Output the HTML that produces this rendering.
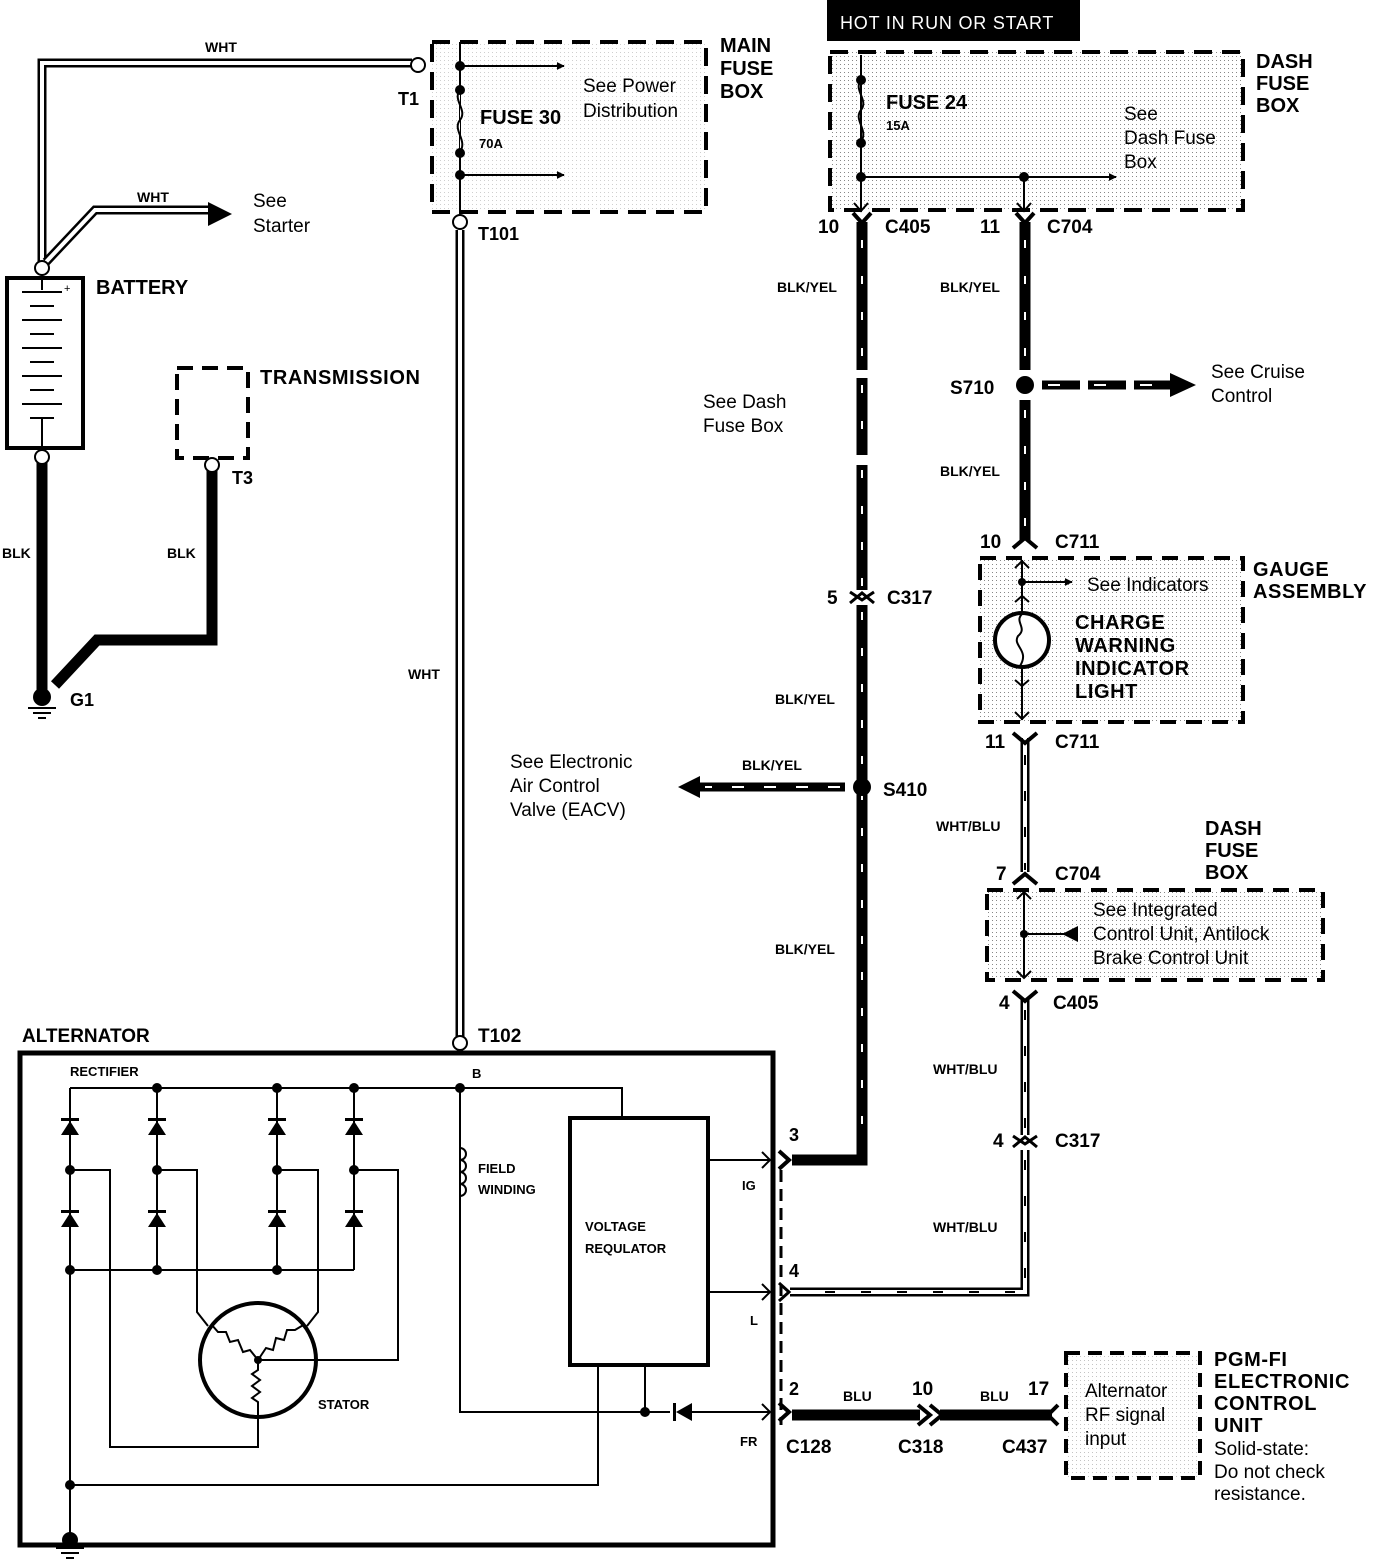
<!DOCTYPE html>
<html><head><meta charset="utf-8"><style>
html,body{margin:0;padding:0;background:#fff}
svg{display:block}
text{font-family:"Liberation Sans",sans-serif;fill:#000}
.b{font-weight:bold}
</style></head><body>
<svg width="1392" height="1564" viewBox="0 0 1392 1564" xmlns="http://www.w3.org/2000/svg">
<defs>
<pattern id="dot" width="4" height="4" patternUnits="userSpaceOnUse"><rect width="4" height="4" fill="#fff"/><rect width="1" height="1" fill="#888"/></pattern>
<marker id="ar" viewBox="0 0 10 10" refX="9" refY="5" markerWidth="8" markerHeight="8" markerUnits="userSpaceOnUse" orient="auto"><path d="M0,0L10,5L0,10z"/></marker>
<g id="fy"><path d="M-9,-9 L0,1 L9,-9" fill="none" stroke="#000" stroke-width="4"/></g>
<g id="mv"><path d="M-7,-7 L0,1 L7,-7" fill="none" stroke="#000" stroke-width="2"/></g>
<g id="diodeup"><path d="M-9,7 L9,7 L0,-7z"/><rect x="-9" y="-10" width="18" height="3"/></g>
</defs>

<rect x="432" y="42" width="274" height="170" fill="url(#dot)" opacity="0.4"/>
<rect x="830" y="52" width="413" height="158" fill="url(#dot)"/>
<rect x="980" y="558" width="263" height="164" fill="url(#dot)"/>
<rect x="987" y="890" width="336" height="90" fill="url(#dot)"/>
<rect x="1066" y="1353" width="134" height="125" fill="url(#dot)" opacity="0.5"/>

<g fill="none" stroke-linejoin="miter">
<path d="M42,262 L42,63 L412,63" stroke="#000" stroke-width="9"/>
<path d="M42,262 L42,63 L412,63" stroke="#fff" stroke-width="4"/>
<path d="M46,262 L95,210 L210,210" stroke="#000" stroke-width="9"/>
<path d="M46,262 L95,210 L210,210" stroke="#fff" stroke-width="4"/>
<path d="M460,230 L460,1037" stroke="#000" stroke-width="9"/>
<path d="M460,230 L460,1037" stroke="#fff" stroke-width="4"/>
</g>
<path d="M208,202 L232,214 L208,226z"/>
<circle cx="418" cy="65" r="7" fill="#fff" stroke="#000" stroke-width="2"/>
<circle cx="42" cy="268" r="7" fill="#fff" stroke="#000" stroke-width="2"/>
<circle cx="460" cy="222" r="7" fill="#fff" stroke="#000" stroke-width="2"/>
<circle cx="460" cy="1043" r="7" fill="#fff" stroke="#000" stroke-width="2"/>
<text x="205" y="52" class="b" font-size="14">WHT</text>
<text x="137" y="202" class="b" font-size="14">WHT</text>
<text x="253" y="207" font-size="19">See</text>
<text x="253" y="232" font-size="19">Starter</text>
<text x="398" y="105" class="b" font-size="18">T1</text>
<text x="478" y="240" class="b" font-size="18">T101</text>
<text x="408" y="679" class="b" font-size="14">WHT</text>

<rect x="7" y="278" width="76" height="170" fill="none" stroke="#000" stroke-width="4"/>
<line x1="42" y1="275" x2="42" y2="290" stroke="#000" stroke-width="2"/>
<g stroke="#000" stroke-width="2">
<line x1="22" y1="292" x2="62" y2="292"/><line x1="30" y1="306" x2="54" y2="306"/>
<line x1="22" y1="320" x2="62" y2="320"/><line x1="30" y1="334" x2="54" y2="334"/>
<line x1="22" y1="348" x2="62" y2="348"/><line x1="30" y1="362" x2="54" y2="362"/>
<line x1="22" y1="376" x2="62" y2="376"/><line x1="30" y1="390" x2="54" y2="390"/>
<line x1="22" y1="404" x2="62" y2="404"/><line x1="30" y1="418" x2="54" y2="418"/>
<line x1="42" y1="418" x2="42" y2="450"/>
</g>
<text x="64" y="292" font-size="11">+</text>
<text x="96" y="294" class="b" font-size="20">BATTERY</text>
<path d="M42,462 L42,690" stroke="#000" stroke-width="11"/>
<circle cx="42" cy="457" r="7" fill="#fff" stroke="#000" stroke-width="2"/>
<path d="M212,470 L212,640 L97,640 L55,685" fill="none" stroke="#000" stroke-width="11"/>
<circle cx="212" cy="465" r="7" fill="#fff" stroke="#000" stroke-width="2"/>
<circle cx="42" cy="697" r="9"/>
<g stroke="#000" stroke-width="2"><line x1="28" y1="708" x2="56" y2="708"/><line x1="33" y1="713" x2="51" y2="713"/><line x1="38" y1="718" x2="46" y2="718"/></g>
<text x="70" y="706" class="b" font-size="18">G1</text>
<text x="2" y="558" class="b" font-size="14">BLK</text>
<text x="167" y="558" class="b" font-size="14">BLK</text>
<rect x="177" y="368" width="71" height="90" fill="none" stroke="#000" stroke-width="4" stroke-dasharray="16 9"/>
<text x="260" y="384" class="b" font-size="20" letter-spacing="0.6">TRANSMISSION</text>
<text x="232" y="484" class="b" font-size="18">T3</text>

<rect x="432" y="42" width="274" height="170" fill="none" stroke="#000" stroke-width="4" stroke-dasharray="18 10"/>
<line x1="460" y1="42" x2="460" y2="214" stroke="#000" stroke-width="2"/>
<path d="M460,90 C452,100 468,110 460,120 C452,130 468,140 460,152" fill="#fff" stroke="#000" stroke-width="2"/>
<circle cx="460" cy="66" r="5"/><circle cx="460" cy="90" r="5"/><circle cx="460" cy="153" r="5"/><circle cx="460" cy="175" r="5"/>
<line x1="460" y1="66" x2="564" y2="66" stroke="#000" stroke-width="2" marker-end="url(#ar)"/>
<line x1="460" y1="175" x2="564" y2="175" stroke="#000" stroke-width="2" marker-end="url(#ar)"/>
<text x="480" y="124" class="b" font-size="20">FUSE 30</text>
<text x="479" y="148" class="b" font-size="13">70A</text>
<text x="583" y="92" font-size="19">See Power</text>
<text x="583" y="117" font-size="19">Distribution</text>
<text x="720" y="52" class="b" font-size="20">MAIN</text>
<text x="720" y="75" class="b" font-size="20">FUSE</text>
<text x="720" y="98" class="b" font-size="20">BOX</text>

<rect x="827" y="0" width="253" height="41"/>
<text x="840" y="29" font-size="18" style="fill:#fff" letter-spacing="0.8">HOT IN  RUN  OR  START</text>

<rect x="830" y="52" width="413" height="158" fill="none" stroke="#000" stroke-width="4" stroke-dasharray="18 10"/>
<line x1="861" y1="55" x2="861" y2="210" stroke="#000" stroke-width="2"/>
<path d="M861,80 C853,90 869,100 861,110 C853,120 869,130 861,142" fill="none" stroke="#000" stroke-width="2"/>
<circle cx="861" cy="80" r="5"/><circle cx="861" cy="143" r="5"/><circle cx="861" cy="177" r="5"/><circle cx="1024" cy="177" r="5"/>
<line x1="861" y1="177" x2="1116" y2="177" stroke="#000" stroke-width="2" marker-end="url(#ar)"/>
<line x1="1024" y1="177" x2="1024" y2="210" stroke="#000" stroke-width="2"/>
<text x="886" y="109" class="b" font-size="20">FUSE 24</text>
<text x="886" y="130" class="b" font-size="13">15A</text>
<text x="1124" y="120" font-size="19">See</text>
<text x="1124" y="144" font-size="19">Dash Fuse</text>
<text x="1124" y="168" font-size="19">Box</text>
<text x="1256" y="68" class="b" font-size="20">DASH</text>
<text x="1256" y="90" class="b" font-size="20">FUSE</text>
<text x="1256" y="112" class="b" font-size="20">BOX</text>

<g stroke="#000" stroke-width="11" fill="none">
<path d="M862,222 L862,370"/><path d="M862,378 L862,455"/><path d="M862,465 L862,590"/>
<path d="M862,605 L862,1160 L792,1160"/>
</g>
<g stroke="#fff" stroke-width="2" stroke-dasharray="8 28">
<path d="M862,240 L862,370"/><path d="M862,385 L862,455"/><path d="M862,470 L862,590"/><path d="M862,612 L862,1150"/>
</g>
<use href="#mv" x="861" y="210"/><use href="#fy" x="862" y="222"/>
<use href="#mv" x="1024" y="210"/><use href="#fy" x="1025" y="222"/>
<text x="818" y="233" class="b" font-size="19">10</text>
<text x="885" y="233" class="b" font-size="19">C405</text>
<text x="980" y="233" class="b" font-size="19">11</text>
<text x="1047" y="233" class="b" font-size="19">C704</text>
<text x="777" y="292" class="b" font-size="14">BLK/YEL</text>
<text x="703" y="408" font-size="19">See  Dash</text>
<text x="703" y="432" font-size="19">Fuse Box</text>
<path d="M850,603 L862,593 L874,603" fill="none" stroke="#000" stroke-width="3"/>
<path d="M850,592 L862,600 L874,592" fill="none" stroke="#000" stroke-width="3"/>
<text x="827" y="604" class="b" font-size="19">5</text>
<text x="887" y="604" class="b" font-size="19">C317</text>
<text x="775" y="704" class="b" font-size="14">BLK/YEL</text>
<text x="775" y="954" class="b" font-size="14">BLK/YEL</text>
<circle cx="862" cy="787" r="9"/>
<text x="883" y="796" class="b" font-size="19">S410</text>
<path d="M845,787 L700,787" stroke="#000" stroke-width="9"/>
<path d="M840,787 L705,787" stroke="#fff" stroke-width="2" stroke-dasharray="12 20"/>
<path d="M700,776 L678,787 L700,798z"/>
<text x="742" y="770" class="b" font-size="14">BLK/YEL</text>
<text x="510" y="768" font-size="19">See Electronic</text>
<text x="510" y="792" font-size="19">Air  Control</text>
<text x="510" y="816" font-size="19">Valve  (EACV)</text>

<path d="M1025,222 L1025,370" stroke="#000" stroke-width="11"/>
<path d="M1025,400 L1025,540" stroke="#000" stroke-width="11"/>
<path d="M1025,240 L1025,365 M1025,410 L1025,530" stroke="#fff" stroke-width="2" stroke-dasharray="8 28"/>
<circle cx="1025" cy="385" r="9"/>
<path d="M1042,385 L1172,385" stroke="#000" stroke-width="9" stroke-dasharray="38 8"/>
<path d="M1048,385 L1172,385" stroke="#fff" stroke-width="2" stroke-dasharray="12 34"/>
<path d="M1170,373 L1196,385 L1170,397z"/>
<text x="950" y="394" class="b" font-size="19">S710</text>
<text x="940" y="292" class="b" font-size="14">BLK/YEL</text>
<text x="940" y="476" class="b" font-size="14">BLK/YEL</text>
<text x="1211" y="378" font-size="19">See Cruise</text>
<text x="1211" y="402" font-size="19">Control</text>

<path d="M1013,548 L1025,538 L1037,548" fill="none" stroke="#000" stroke-width="4"/>
<text x="980" y="548" class="b" font-size="19">10</text>
<text x="1055" y="548" class="b" font-size="19">C711</text>
<rect x="980" y="558" width="263" height="164" fill="none" stroke="#000" stroke-width="4" stroke-dasharray="16 10"/>
<line x1="1022" y1="560" x2="1022" y2="720" stroke="#000" stroke-width="2"/>
<path d="M1015,568 L1022,561 L1029,568 M1015,602 L1022,596 L1029,602 M1015,680 L1022,686 L1029,680 M1015,712 L1022,719 L1029,712" fill="none" stroke="#000" stroke-width="2"/>
<circle cx="1022" cy="582" r="4"/>
<line x1="1022" y1="582" x2="1072" y2="582" stroke="#000" stroke-width="2" marker-end="url(#ar)"/>
<circle cx="1022" cy="640" r="27" fill="#fff" stroke="#000" stroke-width="4"/>
<path d="M1022,614 C1014,622 1028,628 1018,636 C1012,646 1030,650 1020,666" fill="none" stroke="#000" stroke-width="2"/>
<text x="1087" y="591" font-size="19">See Indicators</text>
<text x="1075" y="629" class="b" font-size="20" letter-spacing="0.6">CHARGE</text>
<text x="1075" y="652" class="b" font-size="20" letter-spacing="0.6">WARNING</text>
<text x="1075" y="675" class="b" font-size="20" letter-spacing="0.6">INDICATOR</text>
<text x="1075" y="698" class="b" font-size="20" letter-spacing="0.6">LIGHT</text>
<text x="1253" y="576" class="b" font-size="20" letter-spacing="0.6">GAUGE</text>
<text x="1253" y="598" class="b" font-size="20" letter-spacing="0.6">ASSEMBLY</text>

<g fill="none">
<path d="M1025,738 L1025,872 M1025,998 L1025,1135 M1025,1150 L1025,1292 L790,1292" stroke="#000" stroke-width="9"/>
<path d="M1025,738 L1025,872 M1025,998 L1025,1135 M1025,1150 L1025,1292 L790,1292" stroke="#fff" stroke-width="4"/>
<path d="M1025,755 L1025,870 M1025,1010 L1025,1130 M1025,1160 L1025,1285 M1015,1292 L800,1292" stroke="#000" stroke-width="2" stroke-dasharray="10 26"/>
</g>
<path d="M1013,733 L1025,743 L1037,733" fill="none" stroke="#000" stroke-width="4"/>
<text x="985" y="748" class="b" font-size="19">11</text>
<text x="1055" y="748" class="b" font-size="19">C711</text>
<text x="936" y="831" class="b" font-size="14">WHT/BLU</text>
<path d="M1013,884 L1025,874 L1037,884" fill="none" stroke="#000" stroke-width="4"/>
<text x="996" y="880" class="b" font-size="19">7</text>
<text x="1055" y="880" class="b" font-size="19">C704</text>
<text x="1205" y="835" class="b" font-size="20">DASH</text>
<text x="1205" y="857" class="b" font-size="20">FUSE</text>
<text x="1205" y="879" class="b" font-size="20">BOX</text>
<rect x="987" y="890" width="336" height="90" fill="none" stroke="#000" stroke-width="4" stroke-dasharray="16 10"/>
<line x1="1024" y1="892" x2="1024" y2="978" stroke="#000" stroke-width="2"/>
<path d="M1017,899 L1024,892 L1031,899 M1017,971 L1024,978 L1031,971" fill="none" stroke="#000" stroke-width="2"/>
<circle cx="1024" cy="934" r="4"/>
<line x1="1024" y1="934" x2="1065" y2="934" stroke="#000" stroke-width="2"/>
<path d="M1078,926 L1062,934 L1078,942z"/>
<text x="1093" y="916" font-size="19">See Integrated</text>
<text x="1093" y="940" font-size="19">Control Unit, Antilock</text>
<text x="1093" y="964" font-size="19">Brake Control Unit</text>
<path d="M1013,991 L1025,1001 L1037,991" fill="none" stroke="#000" stroke-width="4"/>
<text x="999" y="1009" class="b" font-size="19">4</text>
<text x="1053" y="1009" class="b" font-size="19">C405</text>
<text x="933" y="1074" class="b" font-size="14">WHT/BLU</text>
<path d="M1013,1147 L1025,1137 L1037,1147" fill="none" stroke="#000" stroke-width="3"/>
<path d="M1013,1136 L1025,1144 L1037,1136" fill="none" stroke="#000" stroke-width="3"/>
<text x="993" y="1147" class="b" font-size="19">4</text>
<text x="1055" y="1147" class="b" font-size="19">C317</text>
<text x="933" y="1232" class="b" font-size="14">WHT/BLU</text>

<rect x="20" y="1053" width="753" height="492" fill="none" stroke="#000" stroke-width="5"/>
<text x="22" y="1042" class="b" font-size="19">ALTERNATOR</text>
<text x="478" y="1042" class="b" font-size="19">T102</text>
<text x="70" y="1076" class="b" font-size="13">RECTIFIER</text>
<text x="472" y="1078" class="b" font-size="13">B</text>
<g stroke="#000" stroke-width="2" fill="none">
<path d="M70,1088 L622,1088 L622,1118"/>
<path d="M70,1088 L70,1540"/>
<path d="M157,1088 L157,1270 M277,1088 L277,1270 M354,1088 L354,1270"/>
<path d="M70,1270 L354,1270"/>
<path d="M70,1170 L110,1170 L110,1447 L258,1447 L258,1418"/>
<path d="M157,1170 L197,1170 L197,1312 L208,1326"/>
<path d="M277,1170 L318,1170 L318,1312 L307,1326"/>
<path d="M354,1170 L398,1170 L398,1360 L258,1360"/>
<path d="M70,1485 L598,1485 L598,1365"/>
<path d="M460,1088 L460,1412 L670,1412"/>
<path d="M645,1412 L645,1365"/>
<path d="M690,1412 L770,1412"/>
<path d="M708,1160 L770,1160 M708,1292 L770,1292"/>
<path d="M762,1152 L770,1160 L762,1168 M762,1284 L770,1292 L762,1300 M762,1404 L770,1412 L762,1420"/>
<path d="M460,1148 a6,6 0 0 1 0,12 a6,6 0 0 1 0,12 a6,6 0 0 1 0,12 a6,6 0 0 1 0,12"/>
<path d="M258,1360 L250,1350 L243,1352 L238,1340 L230,1342 L226,1332 L218,1332 L211,1324"/>
<path d="M258,1360 L266,1348 L273,1350 L276,1338 L284,1340 L287,1330 L295,1330 L305,1324"/>
<path d="M258,1360 L258,1370 L252,1374 L260,1380 L252,1386 L260,1392 L252,1398 L258,1402 L258,1418"/>
</g>
<g>
<use href="#diodeup" x="70" y="1128"/><use href="#diodeup" x="157" y="1128"/><use href="#diodeup" x="277" y="1128"/><use href="#diodeup" x="354" y="1128"/>
<use href="#diodeup" x="70" y="1220"/><use href="#diodeup" x="157" y="1220"/><use href="#diodeup" x="277" y="1220"/><use href="#diodeup" x="354" y="1220"/>
</g>
<g>
<circle cx="157" cy="1088" r="5"/><circle cx="277" cy="1088" r="5"/><circle cx="354" cy="1088" r="5"/><circle cx="460" cy="1088" r="5"/>
<circle cx="70" cy="1170" r="5"/><circle cx="157" cy="1170" r="5"/><circle cx="277" cy="1170" r="5"/><circle cx="354" cy="1170" r="5"/>
<circle cx="70" cy="1270" r="5"/><circle cx="157" cy="1270" r="5"/><circle cx="277" cy="1270" r="5"/>
<circle cx="70" cy="1485" r="5"/><circle cx="645" cy="1412" r="5"/><circle cx="258" cy="1360" r="4"/>
</g>
<path d="M676,1412 L692,1403 L692,1421z"/><rect x="673" y="1403" width="3" height="18"/>
<ellipse cx="258" cy="1360" rx="58" ry="57" fill="none" stroke="#000" stroke-width="4"/>
<text x="318" y="1409" class="b" font-size="13">STATOR</text>
<text x="478" y="1173" class="b" font-size="13">FIELD</text>
<text x="478" y="1194" class="b" font-size="13">WINDING</text>
<rect x="570" y="1118" width="138" height="247" fill="#fff" stroke="#000" stroke-width="4"/>
<text x="585" y="1231" class="b" font-size="13">VOLTAGE</text>
<text x="585" y="1253" class="b" font-size="13">REQULATOR</text>
<text x="742" y="1190" class="b" font-size="13">IG</text>
<text x="750" y="1325" class="b" font-size="13">L</text>
<text x="740" y="1446" class="b" font-size="13">FR</text>
<circle cx="70" cy="1540" r="8"/>
<g stroke="#000" stroke-width="2"><line x1="56" y1="1548" x2="84" y2="1548"/><line x1="61" y1="1553" x2="79" y2="1553"/><line x1="66" y1="1558" x2="74" y2="1558"/></g>

<line x1="781" y1="1170" x2="781" y2="1425" stroke="#000" stroke-width="3" stroke-dasharray="12 7"/>
<path d="M779,1151 L789,1160 L779,1169" fill="none" stroke="#000" stroke-width="4"/>
<path d="M779,1283 L789,1292 L779,1301" fill="none" stroke="#000" stroke-width="3"/>
<path d="M779,1403 L789,1412 L779,1421" fill="none" stroke="#000" stroke-width="4"/>
<text x="789" y="1141" class="b" font-size="18">3</text>
<text x="789" y="1277" class="b" font-size="18">4</text>
<text x="789" y="1395" class="b" font-size="18">2</text>

<path d="M792,1415 L920,1415 M940,1415 L1052,1415" stroke="#000" stroke-width="11"/>
<path d="M918,1405 L930,1415 L918,1425 M930,1405 L942,1415 L930,1425" fill="none" stroke="#000" stroke-width="4"/>
<path d="M1058,1405 L1048,1415 L1058,1425" fill="none" stroke="#000" stroke-width="4"/>
<text x="843" y="1401" class="b" font-size="14">BLU</text>
<text x="980" y="1401" class="b" font-size="14">BLU</text>
<text x="912" y="1395" class="b" font-size="19">10</text>
<text x="1028" y="1395" class="b" font-size="19">17</text>
<text x="786" y="1453" class="b" font-size="19">C128</text>
<text x="898" y="1453" class="b" font-size="19">C318</text>
<text x="1002" y="1453" class="b" font-size="19">C437</text>
<rect x="1066" y="1353" width="134" height="125" fill="none" stroke="#000" stroke-width="4" stroke-dasharray="14 8"/>
<text x="1085" y="1397" font-size="19">Alternator</text>
<text x="1085" y="1421" font-size="19">RF signal</text>
<text x="1085" y="1445" font-size="19">input</text>
<text x="1214" y="1366" class="b" font-size="20" letter-spacing="0.6">PGM-FI</text>
<text x="1214" y="1388" class="b" font-size="20" letter-spacing="0.6">ELECTRONIC</text>
<text x="1214" y="1410" class="b" font-size="20" letter-spacing="0.6">CONTROL</text>
<text x="1214" y="1432" class="b" font-size="20" letter-spacing="0.6">UNIT</text>
<text x="1214" y="1455" font-size="19">Solid-state:</text>
<text x="1214" y="1478" font-size="19">Do not check</text>
<text x="1214" y="1500" font-size="19">resistance.</text>
</svg>
</body></html>
